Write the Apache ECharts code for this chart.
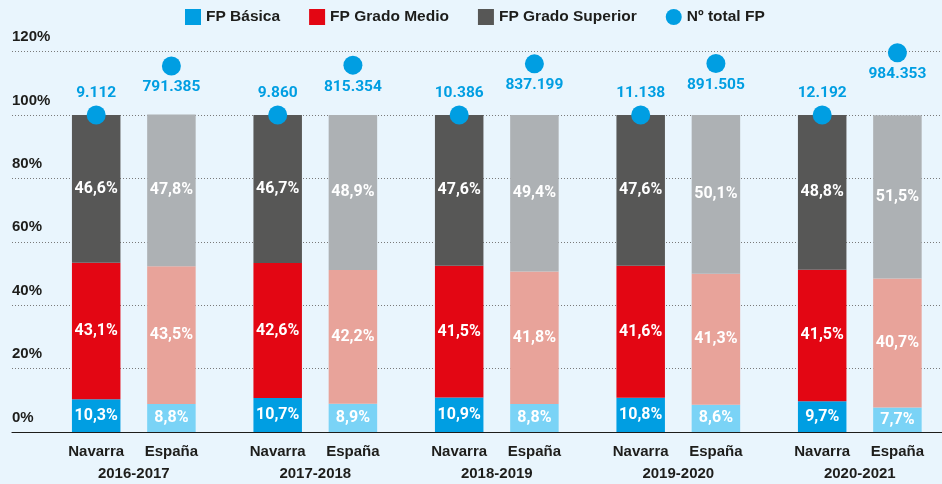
<!DOCTYPE html>
<html>
<head>
<meta charset="utf-8">
<script src="https://cdn.jsdelivr.net/npm/echarts@6/dist/echarts.min.js"></script>
<style>
  html, body { margin: 0; padding: 0; background: #e9f5fd; }
  #chart { width: 942px; height: 484px; }
</style>
</head>
<body>
<div id="chart"></div>
<script>
// Curso académico
const years = ['2016-2017', '2017-2018', '2018-2019', '2019-2020', '2020-2021'];

// Distribución del alumnado de FP (%) — Navarra
const navBasica   = [10.3, 10.7, 10.9, 10.8, 9.7];
const navMedio    = [43.1, 42.6, 41.5, 41.6, 41.5];
const navSuperior = [46.6, 46.7, 47.6, 47.6, 48.8];

// Distribución del alumnado de FP (%) — España
const espBasica   = [8.8, 8.9, 8.8, 8.6, 7.7];
const espMedio    = [43.5, 42.2, 41.8, 41.3, 40.7];
const espSuperior = [47.8, 48.9, 49.4, 50.1, 51.5];

// Nº total de alumnado de FP
const navTotal = [9112, 9860, 10386, 11138, 12192];
const espTotal = [791385, 815354, 837199, 891505, 984353];

// Altura (en la escala %) a la que se dibuja el marcador del total
const navTotalLevel = [100, 100, 100, 100, 100];
const espTotalLevel = [115.4, 115.7, 116.1, 116.2, 119.6];

const yTicks = [0, 20, 40, 60, 80, 100, 120];

const C = {
  navBasica: '#009ee2', navMedio: '#e30613', navSuperior: '#575756',
  espBasica: '#7ad3f6', espMedio: '#e8a39a', espSuperior: '#adb1b4',
  dot: '#009ee2', text: '#1d1d1b', grid: '#7a7a7a'
};

const SANS = '"Liberation Sans", Arial, sans-serif';
const BAR_W = 48.5;
const GAP_PX = 26.7;
const HALF = (BAR_W + GAP_PX) / 2;

function pct(v) { return v.toFixed(1).replace('.', ',') + '%'; }
function thousands(n) { return String(n).replace(/\B(?=(\d{3})+(?!\d))/g, '.'); }

function barSeries(name, data, color, stack) {
  return {
    type: 'bar', name, data, stack,
    xAxisIndex: 1, yAxisIndex: 1,
    barWidth: BAR_W, barGap: (GAP_PX / BAR_W * 100).toFixed(1) + '%',
    itemStyle: { color },
    label: {
      show: true, position: 'inside', color: '#ffffff',
      fontFamily: 'Roboto', fontWeight: 'bold', fontSize: 16,
      formatter: p => pct(p.value)
    },
    emphasis: { disabled: true },
    z: 2
  };
}

function totalSeries(levels, totals, dx, pos) {
  return {
    type: 'scatter', name: 'Nº total FP',
    xAxisIndex: 1, yAxisIndex: 1,
    data: levels.map((lv, i) => ({ value: lv, total: totals[i] })),
    symbol: 'circle', symbolSize: 19, symbolOffset: [dx, 0],
    itemStyle: { color: C.dot, opacity: 1 },
    label: {
      show: true, position: pos, distance: 4,
      color: C.dot, fontFamily: 'Roboto', fontWeight: 'bold', fontSize: 15.5,
      formatter: p => thousands(p.data.total)
    },
    emphasis: { disabled: true },
    z: 5
  };
}

const chart = echarts.init(document.getElementById('chart'), null, { renderer: 'canvas' });

const catLabel = { align: 'center', fontFamily: SANS, fontWeight: 'bold', fontSize: 15, color: C.text, lineHeight: 22 };

chart.setOption({
  backgroundColor: '#e9f5fd',
  animation: false,
  legend: {
    top: 9, left: 185, padding: 0,
    itemWidth: 16, itemHeight: 16, itemGap: 29, itemTextGap: 9,
    textStyle: { color: C.text, fontFamily: SANS, fontWeight: 'bold', fontSize: 15.5 },
    data: [
      { name: 'FP Básica', icon: 'rect' },
      { name: 'FP Grado Medio', icon: 'rect' },
      { name: 'FP Grado Superior', icon: 'rect' },
      { name: 'Nº total FP', icon: 'circle' }
    ]
  },
  grid: [
    { left: 12, right: 0, top: 51.5, height: 380.5 },
    // pares de barras: centros del primer y último curso
    { left: 133.8, right: 82.2, top: 51.5, height: 380.5 }
  ],
  xAxis: [
    {
      gridIndex: 0, type: 'value', min: 0, max: 1,
      axisLine: { show: true, lineStyle: { color: C.text, width: 1.2 } },
      axisTick: { show: false }, axisLabel: { show: false }, splitLine: { show: false }
    },
    {
      gridIndex: 1, type: 'category', data: years, boundaryGap: false,
      axisLine: { show: false }, axisTick: { show: false },
      axisLabel: {
        interval: 0, margin: 9,
        formatter: y => '{n|Navarra}{e|España}\n{y|' + y + '}',
        rich: {
          n: Object.assign({ width: HALF * 2 }, catLabel),
          e: Object.assign({ width: HALF * 2 }, catLabel),
          y: catLabel
        }
      }
    }
  ],
  yAxis: [
    {
      gridIndex: 0, type: 'value', min: yTicks[0], max: yTicks[yTicks.length - 1], interval: 20,
      axisLine: { show: false }, axisTick: { show: false },
      axisLabel: {
        inside: true, margin: 0, align: 'left', verticalAlign: 'bottom',
        padding: [0, 0, 7, 0],
        color: C.text, fontFamily: SANS, fontWeight: 'bold', fontSize: 15,
        formatter: v => v + '%'
      },
      splitLine: { show: true, lineStyle: { color: C.grid, type: [1, 2], width: 1 } }
    },
    {
      gridIndex: 1, type: 'value', min: yTicks[0], max: yTicks[yTicks.length - 1], interval: 20,
      show: false, splitLine: { show: false }
    }
  ],
  series: [
    barSeries('FP Básica', navBasica, C.navBasica, 'nav'),
    barSeries('FP Grado Medio', navMedio, C.navMedio, 'nav'),
    barSeries('FP Grado Superior', navSuperior, C.navSuperior, 'nav'),
    barSeries('FP Básica', espBasica, C.espBasica, 'esp'),
    barSeries('FP Grado Medio', espMedio, C.espMedio, 'esp'),
    barSeries('FP Grado Superior', espSuperior, C.espSuperior, 'esp'),
    totalSeries(navTotalLevel, navTotal, -HALF, 'top'),
    totalSeries(espTotalLevel, espTotal, HALF, 'bottom')
  ]
});
</script>
</body>
</html>
